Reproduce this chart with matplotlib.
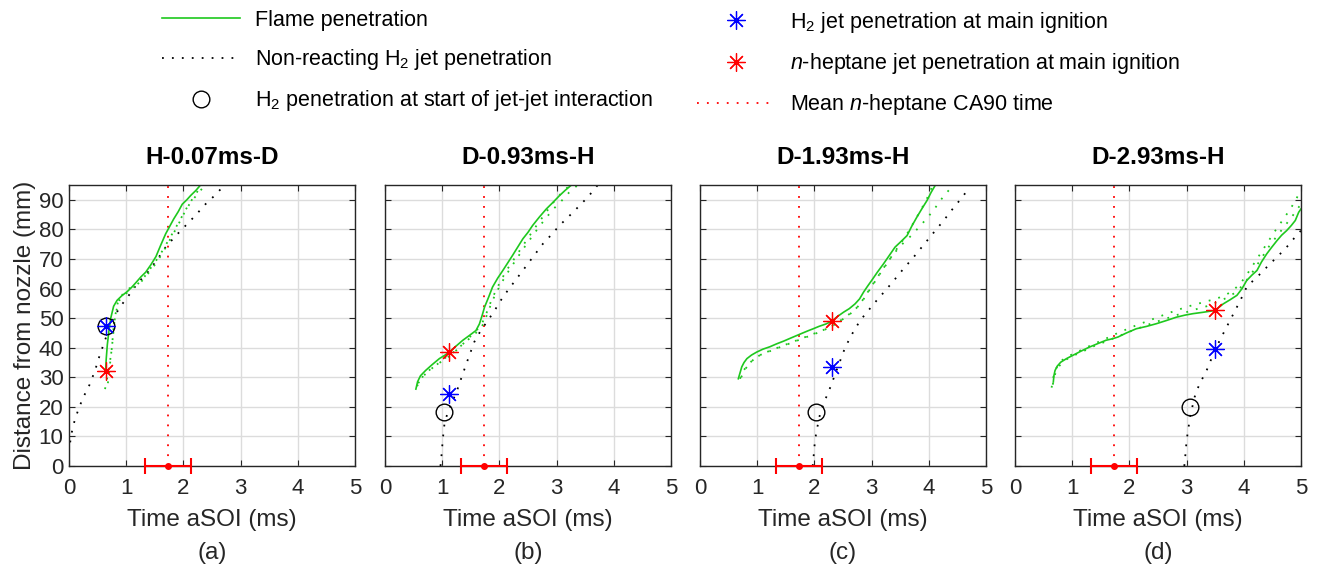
import numpy as np
import matplotlib.pyplot as plt
from matplotlib.lines import Line2D

plt.rcParams['font.family'] = ['Liberation Sans', 'DejaVu Sans']
plt.rcParams['mathtext.fontset'] = 'custom'
plt.rcParams['mathtext.rm'] = 'Liberation Sans'
plt.rcParams['mathtext.it'] = 'Liberation Sans:italic'

# ---- data (time aSOI in ms, distance from nozzle in mm) ----
titles = ['H-0.07ms-D', 'D-0.93ms-H', 'D-1.93ms-H', 'D-2.93ms-H']
letters = ['(a)', '(b)', '(c)', '(d)']

# mean n-heptane CA90 time and its spread
ca90_mean = 1.73
ca90_err = 0.40

# H-0.07ms-D
a_nr_t = [0.02, 0.05, 0.10, 0.18, 0.27, 0.36, 0.45, 0.53, 0.62, 0.72, 0.82, 0.92,
          1.02, 1.15, 1.28, 1.40, 1.55, 1.69, 1.85, 2.04, 2.20, 2.39, 2.55, 2.72]
a_nr_d = [8.0, 11.5, 15.5, 20.0, 24.0, 27.5, 32.0, 37.0, 42.0, 47.5, 51.5, 54.5,
          57.0, 60.5, 63.5, 66.0, 70.0, 74.0, 77.5, 81.3, 84.5, 88.6, 91.5, 95.0]
a_fl_t = [0.64, 0.65, 0.67, 0.70, 0.73, 0.78, 0.84, 0.92, 1.02, 1.10, 1.17, 1.26, 1.34,
          1.43, 1.52, 1.60, 1.69, 1.76, 1.83, 1.91, 1.98, 2.06, 2.13, 2.22, 2.30]
a_fl_d = [32.0, 36.0, 41.0, 46.0, 50.0, 54.0, 56.0, 57.5, 59.0, 60.5, 62.0, 64.0, 65.5,
          68.0, 70.8, 74.5, 78.5, 81.0, 83.5, 86.0, 88.5, 90.0, 91.5, 93.2, 95.0]
a_f1_t = [0.63, 0.70, 0.75, 0.78, 0.82, 0.88, 0.98, 1.10, 1.25, 1.38, 1.50, 1.62, 1.75,
          1.88, 2.00, 2.12, 2.25, 2.38]
a_f1_d = [26.0, 33.0, 40.0, 47.0, 52.0, 56.0, 58.0, 60.0, 62.0, 65.0, 68.0, 71.5, 76.0,
          80.5, 85.0, 89.0, 92.0, 95.0]
a_f2_t = [0.68, 0.72, 0.76, 0.80, 0.85, 0.95, 1.05, 1.20, 1.32, 1.45, 1.58, 1.70, 1.82,
          1.95, 2.08, 2.20, 2.32]
a_f2_d = [28.0, 35.0, 42.0, 50.0, 55.0, 58.5, 60.0, 61.5, 64.0, 67.5, 71.0, 75.0, 79.0,
          83.5, 88.0, 91.5, 95.0]

# D-0.93ms-H
b_nr_t = [0.97, 0.99, 1.01, 1.04, 1.09, 1.17, 1.25, 1.33, 1.43, 1.56, 1.68, 1.80,
          1.93, 2.06, 2.23, 2.41, 2.58, 2.76, 2.90, 3.05, 3.22, 3.40, 3.55, 3.72]
b_nr_d = [0.0, 4.0, 9.0, 14.3, 17.7, 21.5, 25.0, 29.5, 35.0, 41.9, 46.0, 49.2,
          53.0, 57.1, 61.5, 66.1, 70.5, 75.1, 78.0, 81.3, 84.5, 88.0, 91.0, 95.0]
b_fl_t = [0.54, 0.57, 0.62, 0.71, 0.82, 0.95, 1.05, 1.12, 1.24, 1.36, 1.48, 1.59, 1.65,
          1.70, 1.74, 1.81, 1.88, 1.97, 2.06, 2.15, 2.23, 2.32, 2.41, 2.50, 2.58, 2.70,
          2.82, 2.93, 3.05, 3.15, 3.26]
b_fl_d = [26.0, 28.5, 30.5, 32.3, 34.2, 36.3, 37.5, 38.5, 40.5, 42.5, 44.2, 45.8, 48.0,
          51.0, 53.7, 57.0, 60.5, 63.5, 66.1, 68.8, 71.2, 74.0, 76.8, 79.0, 81.3, 84.2,
          86.9, 89.0, 91.4, 93.2, 95.0]
b_f1_t = [0.56, 0.65, 0.78, 0.92, 1.05, 1.20, 1.35, 1.50, 1.62, 1.72, 1.80, 1.88, 1.97,
          2.07, 2.18, 2.30, 2.42, 2.55, 2.68, 2.82, 2.95, 3.08, 3.22, 3.37]
b_f1_d = [27.0, 30.0, 32.5, 34.5, 36.5, 38.5, 41.0, 43.5, 45.5, 48.0, 52.0, 56.0, 59.5,
          63.0, 66.5, 70.0, 73.5, 77.0, 80.5, 84.0, 87.0, 89.5, 92.5, 95.0]
b_f2_t = [0.58, 0.70, 0.85, 1.00, 1.15, 1.30, 1.45, 1.58, 1.68, 1.76, 1.84, 1.93, 2.02,
          2.12, 2.24, 2.36, 2.48, 2.62, 2.75, 2.88, 3.00, 3.12, 3.24]
b_f2_d = [28.0, 31.0, 33.5, 35.5, 37.5, 40.0, 43.0, 45.5, 47.5, 51.0, 55.0, 59.0, 62.5,
          66.0, 69.5, 73.0, 76.5, 80.5, 84.0, 87.5, 90.5, 93.0, 95.0]

# D-1.93ms-H
c_nr_t = [1.97, 1.99, 2.01, 2.05, 2.10, 2.18, 2.28, 2.41, 2.54, 2.67, 2.80, 2.94,
          3.09, 3.24, 3.38, 3.55, 3.73, 3.92, 4.11, 4.26, 4.40, 4.56, 4.72]
c_nr_d = [0.0, 4.0, 8.7, 13.0, 17.7, 22.0, 26.7, 33.5, 40.2, 45.0, 49.2, 52.5,
          56.0, 59.3, 62.5, 66.5, 70.5, 75.0, 79.5, 83.0, 86.5, 90.3, 94.3]
c_fl_t = [0.67, 0.70, 0.73, 0.77, 0.82, 0.90, 0.99, 1.10, 1.22, 1.34, 1.46, 1.58, 1.69,
          1.80, 1.90, 1.98, 2.08, 2.20, 2.30, 2.40, 2.51, 2.61, 2.71, 2.79, 2.86, 2.93,
          3.00, 3.10, 3.21, 3.31, 3.41, 3.52, 3.62, 3.70, 3.79, 3.88, 3.97, 4.04, 4.11]
c_fl_d = [29.5, 31.5, 33.5, 35.0, 36.3, 37.5, 38.5, 39.5, 40.3, 41.3, 42.2, 43.2, 44.1,
          45.0, 45.8, 46.4, 47.2, 48.0, 48.9, 50.5, 52.0, 53.2, 54.8, 56.5, 58.8, 60.8,
          62.7, 65.5, 68.4, 71.2, 74.0, 76.0, 77.9, 81.0, 84.1, 87.0, 89.8, 92.5, 94.8]
c_f1_t = [0.72, 0.78, 0.86, 0.96, 1.10, 1.25, 1.40, 1.55, 1.70, 1.85, 2.00, 2.15, 2.30,
          2.45, 2.60, 2.72, 2.83, 2.93, 3.03, 3.14, 3.26, 3.38, 3.50, 3.62, 3.74, 3.86,
          3.97, 4.06]
c_f1_d = [30.0, 32.5, 34.5, 36.5, 38.0, 39.0, 40.2, 41.3, 42.4, 43.5, 44.6, 45.8, 47.2,
          49.0, 51.0, 53.0, 55.5, 58.5, 61.5, 64.8, 68.2, 71.8, 75.0, 78.5, 82.5, 86.5,
          90.5, 94.5]
c_f2_t = [0.70, 0.75, 0.83, 0.93, 1.05, 1.20, 1.36, 1.52, 1.68, 1.84, 2.00, 2.16, 2.32,
          2.48, 2.62, 2.74, 2.84, 2.94, 3.04, 3.16, 3.28, 3.42, 3.56, 3.70, 3.84, 3.98,
          4.12, 4.25, 4.43]
c_f2_d = [29.5, 32.0, 34.0, 36.0, 37.5, 38.8, 40.0, 41.2, 42.4, 43.6, 44.8, 46.0, 47.5,
          49.5, 51.5, 53.5, 56.0, 59.0, 62.0, 65.5, 69.0, 72.5, 75.5, 78.0, 81.0, 84.0,
          87.5, 91.0, 95.0]

# D-2.93ms-H
d_nr_t = [2.96, 2.98, 3.00, 3.03, 3.06, 3.10, 3.14, 3.22, 3.35, 3.46, 3.58, 3.70,
          3.82, 3.94, 4.05, 4.17, 4.29, 4.40, 4.52, 4.64, 4.75, 4.88, 5.00]
d_nr_d = [0.0, 4.0, 8.7, 12.5, 16.6, 20.0, 23.3, 27.5, 32.3, 37.5, 42.5, 47.0,
          51.5, 56.0, 60.5, 62.8, 65.0, 67.2, 69.5, 71.8, 74.0, 77.0, 79.6]
d_fl_t = [0.67, 0.68, 0.70, 0.74, 0.80, 0.90, 1.01, 1.15, 1.30, 1.45, 1.59, 1.70, 1.80,
          1.95, 2.12, 2.30, 2.47, 2.65, 2.82, 2.97, 3.11, 3.30, 3.50, 3.64, 3.76, 3.88,
          3.97, 4.05, 4.14, 4.23, 4.31, 4.40, 4.49, 4.58, 4.66, 4.75, 4.83, 4.90, 4.96,
          5.00]
d_fl_d = [28.4, 30.5, 32.3, 33.8, 35.1, 36.3, 37.4, 38.8, 40.2, 41.4, 42.5, 43.0, 43.6,
          45.0, 46.4, 47.2, 48.1, 49.2, 50.3, 51.0, 51.5, 52.0, 52.6, 54.8, 56.2, 57.7,
          60.0, 62.7, 64.5, 66.1, 69.0, 71.7, 74.0, 76.2, 78.0, 79.6, 81.3, 83.0, 85.8,
          86.9]
d_f1_t = [0.64, 0.67, 0.72, 0.80, 0.92, 1.05, 1.20, 1.35, 1.50, 1.65, 1.80, 1.95, 2.10,
          2.25, 2.40, 2.55, 2.70, 2.85, 3.00, 3.15, 3.30, 3.45, 3.58, 3.70, 3.82, 3.93,
          4.03, 4.13, 4.23, 4.33, 4.43, 4.53, 4.62, 4.71, 4.80, 4.88, 4.95]
d_f1_d = [26.5, 30.0, 33.0, 35.5, 37.0, 38.2, 39.6, 41.0, 42.3, 43.6, 45.0, 46.2, 47.4,
          48.5, 49.6, 50.7, 51.8, 52.8, 53.8, 54.6, 55.4, 56.2, 57.0, 58.0, 59.5, 61.5,
          64.0, 67.0, 70.0, 73.0, 76.0, 79.0, 81.5, 84.0, 86.5, 89.0, 91.5]
d_f2_t = [0.66, 0.70, 0.76, 0.85, 0.97, 1.10, 1.25, 1.40, 1.55, 1.70, 1.85, 2.00, 2.15,
          2.30, 2.45, 2.60, 2.75, 2.90, 3.05, 3.20, 3.35, 3.48, 3.60, 3.72, 3.84, 3.95,
          4.05, 4.15, 4.25, 4.35, 4.45, 4.55, 4.65, 4.75, 4.85, 4.94, 5.00]
d_f2_d = [27.5, 31.0, 33.5, 35.5, 36.8, 38.0, 39.3, 40.7, 41.8, 43.0, 44.2, 45.4, 46.5,
          47.6, 48.6, 49.6, 50.5, 51.5, 52.3, 53.2, 54.0, 55.0, 56.0, 57.0, 58.5, 60.5,
          62.8, 65.5, 68.5, 71.5, 74.5, 77.0, 79.5, 82.0, 84.5, 87.0, 88.5]

# jet-jet interaction start (circle) and main ignition points (t, H2 d, n-heptane d)
circle_t = [0.64, 1.04, 2.03, 3.06]
circle_d = [47.2, 18.2, 18.2, 19.9]
ign_t = [0.64, 1.12, 2.30, 3.50]
ign_h2_d = [47.2, 24.4, 33.4, 39.6]
ign_hep_d = [32.2, 38.5, 48.9, 52.6]

nonreact = [(a_nr_t, a_nr_d), (b_nr_t, b_nr_d), (c_nr_t, c_nr_d), (d_nr_t, d_nr_d)]
flame = [(a_fl_t, a_fl_d), (b_fl_t, b_fl_d), (c_fl_t, c_fl_d), (d_fl_t, d_fl_d)]
flame_rep1 = [(a_f1_t, a_f1_d), (b_f1_t, b_f1_d), (c_f1_t, c_f1_d), (d_f1_t, d_f1_d)]
flame_rep2 = [(a_f2_t, a_f2_d), (b_f2_t, b_f2_d), (c_f2_t, c_f2_d), (d_f2_t, d_f2_d)]

# ---- styles ----
green = '#1ec81e'
ink = '#262626'
dot = (0, (1, 4.5))
asterisk = (8, 2, 0)

fig = plt.figure(figsize=(13.17, 5.68), dpi=100)
W, H = 1317, 568
lefts = [69, 385, 700, 1015]

for i in range(4):
    ax = fig.add_axes([lefts[i] / W, 102 / H, 286 / W, 281 / H])
    ax.grid(True, color='#dcdcdc', linewidth=1.0)
    ax.set_axisbelow(True)

    ax.axvline(ca90_mean, color='red', linestyle=dot, linewidth=1.3)
    ax.plot(*nonreact[i], color='black', linestyle=dot, linewidth=1.3)
    ax.plot(*flame_rep1[i], color=green, linestyle=dot, linewidth=1.3)
    ax.plot(*flame_rep2[i], color=green, linestyle=dot, linewidth=1.3)
    ax.plot(*flame[i], color=green, linewidth=1.2)

    ax.plot(circle_t[i], circle_d[i], 'o', mfc='none', mec='black', ms=12, mew=1.0)
    ax.plot(ign_t[i], ign_h2_d[i], marker=asterisk, color='blue', ms=13, mew=0.9,
            linestyle='none')
    ax.plot(ign_t[i], ign_hep_d[i], marker=asterisk, color='red', ms=13, mew=0.9,
            linestyle='none')
    ax.errorbar(ca90_mean, 0, xerr=ca90_err, fmt='o', color='red', ms=4,
                capsize=6, elinewidth=1.5, capthick=1.5, clip_on=False, zorder=5)

    ax.set_xlim(0, 5)
    ax.set_ylim(0, 95)
    ax.set_xticks(range(6))
    ax.set_yticks(range(0, 100, 10))
    ax.tick_params(direction='in', top=True, right=True, labelsize=16,
                   length=4, width=0.8, colors=ink)
    ax.tick_params(axis='x', pad=9)
    ax.tick_params(axis='y', pad=4)
    if i > 0:
        ax.set_yticklabels([])
    else:
        ax.set_ylabel('Distance from nozzle (mm)', fontsize=17.5, color=ink,
                      labelpad=2)
    for s in ax.spines.values():
        s.set_color(ink)
        s.set_linewidth(1.0)
    ax.set_xlabel('Time aSOI (ms)', fontsize=17.5, color=ink, labelpad=7)
    ax.set_title(titles[i], fontsize=17.5, fontweight='bold', pad=15)
    ax.text(0.5, -(553 - 466) / 281, letters[i], transform=ax.transAxes,
            ha='center', va='center', fontsize=17.5, color=ink)

# legend, two columns
h_left = [Line2D([], [], color=green, linewidth=1.2),
          Line2D([], [], color='black', linestyle=dot, linewidth=1.3),
          Line2D([], [], color='black', marker='o', mfc='none', ms=12, mew=1.0,
                 linestyle='none')]
l_left = ['Flame penetration',
          r'Non-reacting H$_2$ jet penetration',
          r'H$_2$ penetration at start of jet-jet interaction']
h_right = [Line2D([], [], color='blue', marker=asterisk, ms=13, mew=0.9, linestyle='none'),
           Line2D([], [], color='red', marker=asterisk, ms=13, mew=0.9, linestyle='none'),
           Line2D([], [], color='red', linestyle=dot, linewidth=1.3)]
l_right = [r'H$_2$ jet penetration at main ignition',
           r'$n$-heptane jet penetration at main ignition',
           r'Mean $n$-heptane CA90 time']

for hs, ls, x0 in [(h_left, l_left, 162), (h_right, l_right, 697)]:
    fig.legend(hs, ls, loc='upper left', bbox_to_anchor=(x0 / W, 1 - 10 / H),
               frameon=False, fontsize=15.5, borderpad=0, borderaxespad=0,
               handlelength=3.6, handletextpad=0.7, labelspacing=0.75)

fig.savefig('out.png', dpi=100)
